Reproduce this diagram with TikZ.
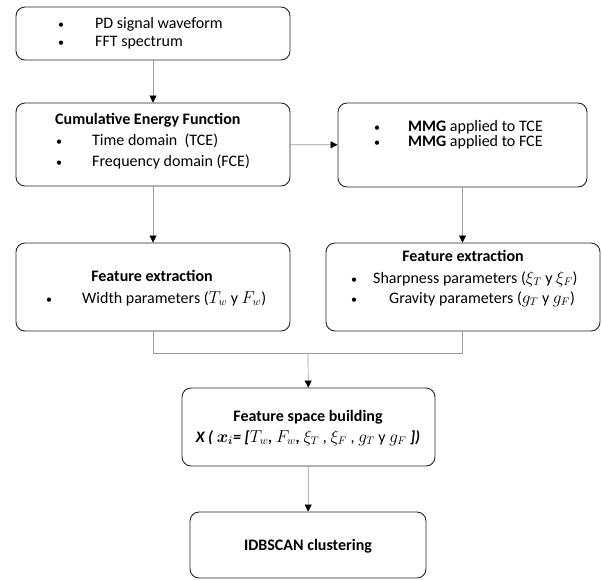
\documentclass[tikz,border=0pt]{standalone}
\usepackage{amsmath}
\usepackage{bm}
\usepackage{fontspec}
\setmainfont{Carlito}
\usepackage{tikz}
\usetikzlibrary{arrows.meta, positioning}

\tikzset{
  box/.style={draw=black!85, rounded corners=9pt, line width=0.9pt, inner sep=0pt},
  txt/.style={inner sep=0pt, anchor=west, text height=9pt, text depth=3pt},
  ctr/.style={inner sep=0pt, text height=9pt, text depth=3pt},
  link/.style={draw=gray!80, line width=0.7pt},
  flow/.style={link, -{Triangle[length=7pt, width=7pt, black]}},
}
\newcommand{\bul}{\scalebox{0.75}{\textbullet}}

\begin{document}
\begin{tikzpicture}[x=1pt, y=-1pt, font=\fontsize{16}{19}\selectfont]
      \useasboundingbox (0,0) rectangle (602,579);

      % boxes
      \node[box, minimum width=274pt, minimum height=53pt] (signal) at (153,33.5) {};
      \node[box, minimum width=274pt, minimum height=83pt] (cef) at (153,144.5) {};
      \node[box, minimum width=249pt, minimum height=84pt] (mmg) at (462.5,145) {};
      \node[box, minimum width=274pt, minimum height=88pt] (width) at (153,287) {};
      \node[box, minimum width=274pt, minimum height=88pt] (sharp) at (463,287) {};
      \node[box, minimum width=253pt, minimum height=78pt] (space) at (308.5,427) {};
      \node[box, minimum width=236pt, minimum height=66pt] (idbscan) at (308,545) {};

      % texts
      \node[txt] (b1a) at (58,25) {\bul};
      \node[txt] (t1a) at (95,25) {PD signal waveform};
      \node[txt] (b1b) at (58,43) {\bul};
      \node[txt] (t1b) at (95,43) {FFT spectrum};

      \node[txt] (h2) at (55,121) {\textbf{Cumulative Energy Function}};
      \node[txt] (b2a) at (56,142) {\bul};
      \node[txt] (t2a) at (92,142) {Time domain~ (TCE)};
      \node[txt] (b2b) at (56,163) {\bul};
      \node[txt] (t2b) at (92,163) {Frequency domain (FCE)};

      \node[txt] (b3a) at (374,128) {\bul};
      \node[txt] (t3a) at (408,128) {\textbf{MMG} applied to TCE};
      \node[txt] (b3b) at (374,143) {\bul};
      \node[txt] (t3b) at (408,143) {\textbf{MMG} applied to FCE};

      \node[ctr] (h4) at (152,278) {\textbf{Feature extraction}};
      \node[txt] (b4) at (46,300) {\bul};
      \node[txt] (t4) at (82,300) {Width parameters ($T_w$ y $F_w$)};

      \node[ctr] (h5) at (463,258) {\textbf{Feature extraction}};
      \node[txt] (b5a) at (351,280) {\bul};
      \node[txt] (t5a) at (373,280) {Sharpness parameters ($\xi_T$ y $\xi_F$)};
      \node[txt] (b5b) at (351,300) {\bul};
      \node[txt] (t5b) at (389,300) {Gravity parameters ($g_T$ y $g_F$)};

      \node[ctr] (h6) at (308,418) {\textbf{Feature space building}};
      \node[ctr] (t6) at (308,439) {\textbf{\textit{X (} $\bm{x_i}$\textit{= [}}$T_w$\textbf{\textit{,}} $F_w$\textbf{\textit{,}} $\xi_T$ , $\xi_F$ , $g_T$ y $g_F$ \textbf{\textit{])}}};

      \node[ctr] (t7) at (308,547) {\textbf{IDBSCAN clustering}};

      % connectors
      \coordinate (join) at (308,353);
      \draw[flow] (signal) -- (cef);
      \draw[flow] (cef) -- (mmg);
      \draw[flow] (cef) -- (width);
      \draw[flow] (mmg) -- (mmg |- sharp.north);
      \draw[link] (width) |- (join);
      \draw[link] (sharp.south -| mmg) |- (join);
      \draw[flow] (join) -- (space);
      \draw[flow] (space) -- (idbscan);
    \end{tikzpicture}
\end{document}
